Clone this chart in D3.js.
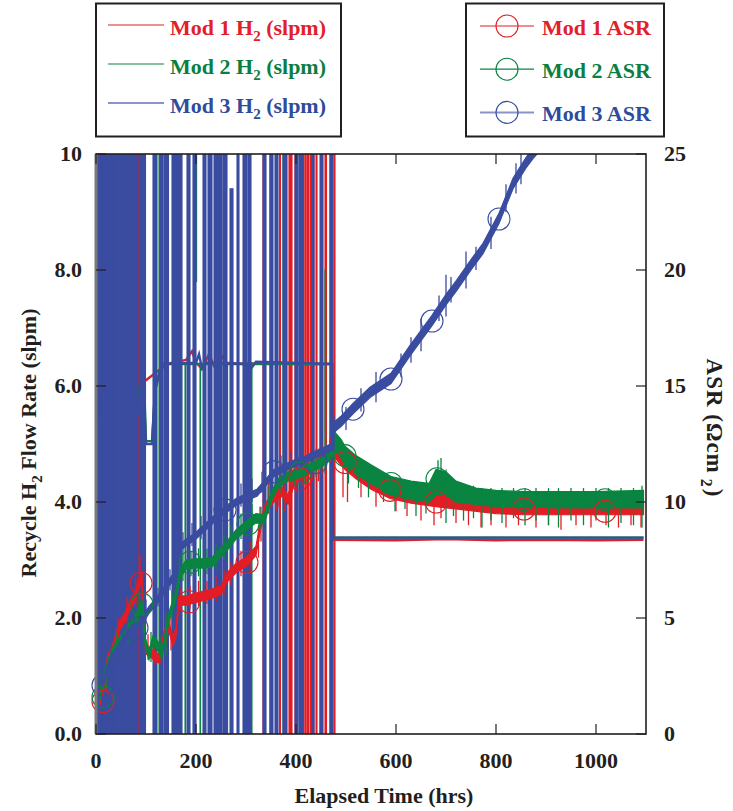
<!DOCTYPE html>
<html><head><meta charset="utf-8">
<script src="https://cdn.jsdelivr.net/npm/d3@7"></script>
<style>
body{margin:0;background:#fff}
text{font-family:"Liberation Serif","Times New Roman",serif;font-weight:bold}
</style>
</head><body>
<svg id="c" width="733" height="811"></svg>
<script>
// ---------------- DATA ----------------
const xTicks = [0, 200, 400, 600, 800, 1000];
const xTickLabels = ["0", "200", "400", "600", "800", "1000"];
const yLeftTicks = [0, 2, 4, 6, 8, 10];
const yLeftLabels = ["0.0", "2.0", "4.0", "6.0", "8.0", "10"];
const yRightTicks = [0, 5, 10, 15, 20, 25];
const yRightLabels = ["0", "5", "10", "15", "20", "25"];

const seriesNames = ["Mod 1", "Mod 2", "Mod 3"];

// H2 flow (slpm) baselines [hrs, slpm]
const flowRed = [[2,6.2],[10,6.05],[20,6.15],[30,6.1],[40,6.2],[50,6.1],[52,7.8],[62,7.8],[64,6.2],[80,6.1],[100,6.1],[130,6.3],[150,6.4],[180,6.45],[192,6.6],[200,6.4],[212,6.3],[226,6.55],[236,6.35],[246,6.6],[260,6.4],[300,6.38],[350,6.4],[400,6.38],[472,6.38],[474,3.35],[600,3.34],[700,3.36],[800,3.34],[900,3.35],[1000,3.34],[1095,3.35]];
const flowGreen = [[0,6.4],[8,5.5],[16,6.5],[24,5.9],[32,6.6],[40,5.8],[48,6.3],[56,5.7],[64,6.5],[72,5.9],[80,6.2],[88,5.6],[96,6.1],[100,5.05],[112,5.05],[118,5.95],[126,6.2],[132,6.38],[472,6.38],[474,3.385],[1095,3.385]];
const flowBlue = [[0,6.5],[6,5.4],[14,6.6],[22,5.9],[30,6.8],[38,5.7],[46,6.4],[54,5.6],[62,6.6],[70,5.8],[78,6.3],[86,5.5],[94,6.2],[100,5.0],[112,5.0],[118,5.9],[126,6.2],[132,6.38],[200,6.4],[206,6.55],[212,6.3],[220,6.4],[300,6.38],[310,6.3],[320,6.42],[472,6.38],[474,3.385],[1095,3.385]];

// flow excursions [startHrs, endHrs, low slpm, high slpm]
const spikesRed = [[9,10,0,10.5],[84,85,0,10.5],[165,167,0,10.5],[241,243,6.4,10.5],[247,249,6.4,8.3],[334,338,0,10.5],[349,352,0,10.5],[367,369,0,10.5],[386,392,0,10.5],[398,402,0,10.5],[414,416,0,10.5],[418,420,0,10.5],[422,425,0,10.5],[428,431,0,10.5],[434,436,0,10.5],[440,442,0,10.5],[448,451,0,6.4],[458,461,0,10.5],[470,472,0,10.5],[476,478,0,10.5]];
const spikesGreen = [[6,7,0,10.5],[88,89,4.8,8.5],[126,127,0,10.5],[178,179,0,6.4],[200,201,7.8,10.5],[208,209,0,6.4],[242,243,0,6.4],[262,263,0,6.4],[302,304,0,6.4],[310,312,0,6.4],[348,349,0,10.5],[374,375,0,10.5],[458,459,4.5,8.0],[468,469,0,10.5]];
const spikesBlue = [[1,5,0,10.5],[8,33,0,10.5],[34,52,0,10.5],[53,83,0,10.5],[86,99,0,10.5],[114,122,0,10.5],[128,134,0,10.5],[136,145,0,10.5],[152,172,0,10.5],[182,188,0,10.5],[194,200,0,10.5],[214,220,0,10.5],[224,232,0,10.5],[236,242,0,10.5],[244,252,0,10.5],[254,262,0,10.5],[268,274,0,9.4],[282,286,0,10.5],[294,302,0,10.5],[304,310,0,10.5],[334,340,0,10.5],[348,354,0,10.5],[358,364,0,10.5],[374,382,0,10.5],[398,404,0,10.5],[406,414,0,10.5],[432,436,0,10.5],[448,454,0,10.5],[468,474,0,10.5]];

// ASR bands [hrs, low, high] (ohm cm2)
const asrRed = [[8,1.25,1.65],[16,2.0,2.4],[24,3.05,3.45],[32,3.35,3.75],[40,3.95,4.35],[48,4.5,4.9],[58,4.85,5.25],[68,5.35,5.75],[76,5.65,6.05],[86,6.3,6.7],[92,6.55,6.95],[96,4.15,4.55],[100,3.45,3.85],[110,3.3,3.7],[120,3.1,3.5],[128,3.05,3.45],[136,4.05,4.45],[146,4.4,4.8],[154,3.8,4.2],[160,4.2,4.6],[166,5.55,5.95],[180,5.55,5.95],[196,5.65,6.05],[214,5.75,6.15],[232,5.85,6.25],[250,6.0,6.4],[262,6.55,6.95],[280,6.95,7.35],[302,7.25,7.65],[320,7.7,8.1],[330,8.9,9.3],[340,9.6,10.0],[356,10.0,10.4],[372,10.25,10.65],[384,9.9,10.3],[396,10.7,11.1],[408,10.95,11.35],[424,11.2,11.6],[440,11.4,11.8],[456,11.65,12.05],[466,12.0,12.4],[474,12.0,12.4],[478,11.9,12.5],[498,11.4,12.0],[520,11.0,11.6],[550,10.55,11.1],[588,10.15,10.7],[630,9.95,10.5],[680,9.8,10.35],[740,9.65,10.2],[800,9.5,10.0],[856,9.45,10.0],[920,9.45,9.95],[1018,9.45,9.95],[1095,9.45,9.95]];
const asrGreen = [[8,1.45,1.85],[16,2.2,2.6],[26,2.95,3.35],[36,3.45,3.85],[46,3.75,4.15],[58,4.05,4.45],[70,4.45,4.85],[80,4.8,5.2],[92,5.4,5.8],[98,3.8,4.2],[106,3.2,3.6],[114,3.85,4.25],[122,3.65,4.05],[132,3.3,3.7],[140,4.2,4.6],[148,5.0,5.4],[158,5.6,6.0],[168,6.7,7.1],[180,7.1,7.5],[196,7.15,7.55],[214,7.15,7.55],[232,7.2,7.6],[250,7.65,8.05],[262,7.9,8.3],[280,8.4,8.8],[304,8.85,9.25],[320,9.1,9.5],[336,9.05,9.45],[350,10.0,10.4],[364,10.6,11.0],[384,10.9,11.3],[408,11.05,11.45],[430,11.3,11.7],[450,11.5,11.9],[466,11.75,12.15],[474,12.0,12.5],[478,12.2,13.0],[490,11.9,12.7],[498,11.6,12.4],[520,11.2,12.0],[550,10.8,11.6],[590,10.3,11.1],[630,10.1,10.9],[666,10.0,10.8],[680,10.3,11.4],[700,10.3,11.3],[720,10.0,10.9],[760,9.9,10.6],[800,9.8,10.5],[856,9.8,10.45],[920,9.75,10.45],[1000,9.75,10.45],[1095,9.75,10.5]];
const asrBlue = [[5,1.95,2.25],[14,2.05,2.35],[24,2.75,3.05],[36,3.25,3.55],[48,3.65,3.95],[60,4.05,4.35],[72,4.4,4.7],[82,4.45,4.75],[94,4.8,5.1],[106,5.2,5.5],[118,5.5,5.8],[130,5.85,6.15],[142,6.25,6.55],[154,6.6,6.9],[162,7.15,7.45],[168,7.9,8.2],[180,8.1,8.4],[200,8.4,8.7],[220,8.8,9.1],[240,9.2,9.5],[258,9.5,9.8],[280,9.85,10.15],[300,10.05,10.35],[322,10.25,10.55],[340,10.7,11.0],[356,11.1,11.4],[380,11.35,11.65],[400,11.55,11.85],[422,11.7,12.0],[440,11.9,12.2],[460,12.1,12.4],[474,12.25,12.55],[476,13.0,13.45],[490,13.25,13.7],[514,13.8,14.25],[548,14.5,14.95],[590,15.1,15.55],[628,16.3,16.75],[672,17.6,18.05],[700,18.5,18.95],[721,19.1,19.55],[750,20.0,20.45],[774,20.7,21.15],[806,22.0,22.45],[834,23.5,23.95],[860,24.4,24.85],[874,24.8,25.25],[886,25.1,25.55]];

// ASR noise excursions [hrs, low, high]
const asrRedSpikes = [[20,1.8,3.0],[44,3.8,5.0],[62,4.6,5.9],[80,5.5,6.7],[88,6.5,7.7],[104,3.2,4.3],[116,3.0,4.0],[140,3.9,5.0],[150,3.6,5.1],[170,5.3,6.3],[188,5.4,6.4],[205,5.5,6.6],[222,5.6,6.6],[240,5.7,6.8],[256,6.0,7.1],[270,6.4,7.4],[290,6.8,7.9],[310,7.0,8.3],[325,7.6,9.0],[330,8.3,9.8],[345,9.5,10.8],[360,9.6,10.9],[366,9.8,11.0],[378,9.6,10.9],[388,6.1,10.6],[400,10.4,11.6],[412,10.7,11.8],[420,10.7,12.0],[432,10.9,12.0],[445,10.9,12.3],[452,11.2,12.5],[460,11.0,12.6],[468,11.7,12.8],[494,10.2,11.8],[503,10.0,11.5],[530,10.2,11.3],[560,9.8,11.0],[600,9.6,10.6],[622,9.4,10.5],[650,9.2,10.2],[676,9.0,10.4],[690,9.3,10.8],[720,9.1,10.3],[745,9.0,10.0],[770,8.9,10.0],[790,9.0,10.0],[820,8.9,10.0],[845,9.0,10.0],[880,8.9,10.0],[905,9.0,10.0],[930,8.8,10.0],[960,9.0,10.0],[990,8.9,10.0],[1020,9.0,10.0],[1045,8.9,10.0],[1070,9.0,10.0],[1090,8.9,10.0]];
const asrGreenSpikes = [[20,2.0,3.0],[40,3.3,4.4],[64,3.9,5.0],[86,4.8,6.1],[110,3.1,4.4],[128,3.2,4.2],[140,3.4,5.2],[152,5.0,6.2],[174,6.6,7.8],[190,6.8,7.9],[205,6.8,8.0],[222,6.9,8.0],[240,7.1,8.2],[256,7.5,8.6],[270,8.0,9.0],[290,8.4,9.5],[312,8.7,9.9],[328,8.8,9.8],[344,9.5,10.7],[370,10.4,11.5],[396,10.7,11.7],[418,10.8,11.9],[440,11.1,12.3],[460,11.4,12.5],[505,10.8,12.2],[525,10.6,11.8],[545,10.2,11.4],[575,10.0,11.2],[598,9.6,11.0],[618,9.7,10.8],[640,9.4,10.8],[660,9.5,10.8],[684,10.6,11.8],[690,10.5,11.9],[700,9.1,11.4],[715,9.4,11.0],[735,9.2,10.8],[755,9.3,10.7],[772,8.9,10.6],[790,9.2,10.6],[812,9.1,10.6],[835,9.3,10.6],[858,9.0,10.6],[880,9.2,10.6],[905,9.0,10.6],[925,8.9,10.6],[950,9.2,10.6],[975,9.0,10.6],[1000,9.2,10.6],[1025,8.9,10.6],[1050,9.1,10.6],[1075,9.0,10.6],[1092,8.9,10.7]];
const asrBlueSpikes = [[30,2.8,3.6],[54,3.6,4.4],[76,4.2,5.0],[100,4.8,5.8],[124,5.5,6.3],[148,6.2,7.1],[174,7.8,8.7],[192,8.1,9.1],[210,8.4,9.4],[230,8.8,9.8],[250,9.2,10.2],[270,9.5,10.6],[290,9.8,10.8],[312,10.0,11.0],[332,10.4,11.3],[348,10.8,11.8],[370,11.1,12.0],[390,11.3,12.2],[412,11.5,12.4],[432,11.7,12.6],[452,11.9,12.8],[476,12.2,13.7],[500,13.1,14.1],[530,13.9,14.9],[560,14.3,15.6],[610,15.4,16.4],[630,16.0,17.1],[650,16.5,17.9],[686,17.8,18.9],[700,18.0,19.8],[710,18.6,19.7],[740,19.2,20.8],[760,20.0,21.0],[790,20.9,22.3],[820,22.5,23.7],[840,23.3,24.6],[850,23.7,25.2]];

// ASR markers [hrs, ASR]
const markRed = [[14,1.4],[90,6.5],[186,5.7],[302,7.4],[408,11.0],[498,11.7],[588,10.5],[680,10.0],[856,9.7],[1018,9.6]];
const markGreen = [[14,1.6],[92,5.6],[188,7.4],[304,9.05],[408,11.25],[498,12.0],[590,10.8],[682,11.0],[856,10.1],[1018,10.1]];
const markBlue = [[14,2.1],[82,4.57],[258,9.66],[356,11.3],[440,11.7],[514,14.0],[590,15.3],[672,17.8],[806,22.2]];

// ---------------- DRAW ----------------
const C = {red:"#e31d25", green:"#0a8441", blue:"#394ca0",
           tRed:"#e2202a", tGreen:"#0b7f3f", tBlue:"#2f4b9b",
           lBlue:"#8a94c8"};
const svg = d3.select("#c");
const L = 96, R = 646, T = 154, B = 734;
const x = d3.scaleLinear().domain([0, 1100]).range([L, R]);
const yL = d3.scaleLinear().domain([0, 10]).range([B, T]);
const yR = d3.scaleLinear().domain([0, 25]).range([B, T]);

svg.append("defs").append("clipPath").attr("id","clip")
  .append("rect").attr("x",L).attr("y",T).attr("width",R-L).attr("height",B-T);
const plot = svg.append("g").attr("clip-path","url(#clip)");

const flowLine = d3.line().x(d=>x(d[0])).y(d=>yL(d[1]));
function drawFlow(base, spikes, col){
  const g = plot.append("g");
  g.append("path").datum(base).attr("d",flowLine).attr("fill","none")
    .attr("stroke",col).attr("stroke-width",2.4);
  g.selectAll("rect.sp").data(spikes).join("rect").attr("class","sp")
    .attr("x",d=>x(d[0])).attr("width",d=>Math.max(0.6, x(d[1])-x(d[0])))
    .attr("y",d=>yL(d[3])).attr("height",d=>yL(d[2])-yL(d[3]))
    .attr("fill",col).attr("stroke",col).attr("stroke-width",1.1);
}
drawFlow(flowRed, spikesRed, C.red);
drawFlow(flowGreen, spikesGreen, C.green);
drawFlow(flowBlue, spikesBlue, C.blue);

const band = d3.area().x(d=>x(d[0])).y0(d=>yR(d[1])).y1(d=>yR(d[2]));
function drawAsr(data, spikes, marks, col){
  const g = plot.append("g");
  g.append("path").datum(data).attr("d",band).attr("fill",col)
    .attr("stroke",col).attr("stroke-width",1.2);
  g.selectAll("line").data(spikes).join("line")
    .attr("x1",d=>x(d[0])).attr("x2",d=>x(d[0]))
    .attr("y1",d=>yR(d[1])).attr("y2",d=>yR(d[2]))
    .attr("stroke",col).attr("stroke-width",1.3);
  svg.append("g").selectAll("circle").data(marks).join("circle")
    .attr("cx",d=>x(d[0])).attr("cy",d=>yR(d[1])).attr("r",11)
    .attr("fill","none").attr("stroke",col).attr("stroke-width",1.1);
}
drawAsr(asrRed, asrRedSpikes, markRed, C.red);
drawAsr(asrGreen, asrGreenSpikes, markGreen, C.green);
drawAsr(asrBlue, asrBlueSpikes, markBlue, C.blue);

// frame
const ax = svg.append("g");
ax.append("rect").attr("x",L).attr("y",T).attr("width",R-L).attr("height",B-T)
  .attr("fill","none").attr("stroke","#231f20").attr("stroke-width",1.6);
ax.append("line").attr("x1",L).attr("x2",L).attr("y1",T).attr("y2",B)
  .attr("stroke","#7a7a7a").attr("stroke-width",3);
// ticks
const tk = 10;
ax.selectAll(".xb").data(xTicks).join("line")
  .attr("x1",d=>x(d)).attr("x2",d=>x(d)).attr("y1",B).attr("y2",B-tk)
  .attr("stroke","#231f20").attr("stroke-width",1.2);
ax.selectAll(".xt").data(xTicks).join("line")
  .attr("x1",d=>x(d)).attr("x2",d=>x(d)).attr("y1",T).attr("y2",T+tk)
  .attr("stroke","#231f20").attr("stroke-width",1.2);
ax.selectAll(".yl").data(yLeftTicks).join("line")
  .attr("x1",L).attr("x2",L+tk).attr("y1",d=>yL(d)).attr("y2",d=>yL(d))
  .attr("stroke","#231f20").attr("stroke-width",1.2);
ax.selectAll(".yr").data(yRightTicks).join("line")
  .attr("x1",R).attr("x2",R-tk).attr("y1",d=>yR(d)).attr("y2",d=>yR(d))
  .attr("stroke","#231f20").attr("stroke-width",1.2);

// tick labels
const fs = 22;
ax.selectAll(".xl").data(xTicks).join("text")
  .attr("x",d=>x(d)).attr("y",768).attr("text-anchor","middle")
  .attr("font-size",fs).attr("fill","#231f20").text((d,i)=>xTickLabels[i]);
ax.selectAll(".yll").data(yLeftTicks).join("text")
  .attr("x",82).attr("y",d=>yL(d)).attr("dy","0.34em").attr("text-anchor","end")
  .attr("font-size",fs).attr("fill","#231f20").text((d,i)=>yLeftLabels[i]);
ax.selectAll(".yrl").data(yRightTicks).join("text")
  .attr("x",664).attr("y",d=>yR(d)).attr("dy","0.34em").attr("text-anchor","start")
  .attr("font-size",fs).attr("fill","#231f20").text((d,i)=>yRightLabels[i]);

// axis titles
ax.append("text").attr("x",384).attr("y",803).attr("text-anchor","middle")
  .attr("font-size",fs).attr("fill","#231f20").text("Elapsed Time (hrs)");
const yt = ax.append("text").attr("transform","translate(36,443) rotate(-90)")
  .attr("text-anchor","middle").attr("font-size",fs).attr("fill","#231f20");
yt.append("tspan").text("Recycle H");
yt.append("tspan").attr("font-size",15).attr("dy",6).text("2");
yt.append("tspan").attr("dy",-6).text(" Flow Rate (slpm)");
const rt = ax.append("text").attr("transform","translate(707,428) rotate(90)")
  .attr("text-anchor","middle").attr("font-size",23).attr("letter-spacing",1)
  .attr("fill","#231f20");
rt.append("tspan").text("ASR (\u03A9cm");
rt.append("tspan").attr("font-size",16).attr("dy",6).attr("dx",5).text("2");
rt.append("tspan").attr("dy",-6).attr("dx",1).text(")");

// legends
const lg = svg.append("g");
lg.append("rect").attr("x",96).attr("y",3.5).attr("width",245).attr("height",133)
  .attr("fill","#fff").attr("stroke","#231f20").attr("stroke-width",2);
const leftCols = [C.red, C.green, C.lBlue];
const textCols = [C.tRed, C.tGreen, C.tBlue];
seriesNames.forEach((n,i)=>{
  const yb = 35 + i*39;
  lg.append("line").attr("x1",108).attr("x2",164).attr("y1",yb-10).attr("y2",yb-10)
    .attr("stroke",leftCols[i]).attr("stroke-width",i===2?2:1.2);
  const t = lg.append("text").attr("x",170).attr("y",yb).attr("font-size",fs).attr("fill",textCols[i]);
  t.append("tspan").text(n+" H");
  t.append("tspan").attr("font-size",15).attr("dy",6).text("2");
  t.append("tspan").attr("dy",-6).text(" (slpm)");
});
lg.append("rect").attr("x",466).attr("y",3.5).attr("width",198).attr("height",133)
  .attr("fill","#fff").attr("stroke","#231f20").attr("stroke-width",2);
seriesNames.forEach((n,i)=>{
  const yb = 34.5 + i*43.2;
  const yl = yb - 8.5;
  lg.append("line").attr("x1",480).attr("x2",534).attr("y1",yl).attr("y2",yl)
    .attr("stroke",leftCols[i]).attr("stroke-width",i===2?2:1.2);
  lg.append("circle").attr("cx",507).attr("cy",yl).attr("r",11)
    .attr("fill","none").attr("stroke",[C.red,C.green,C.blue][i]).attr("stroke-width",1.1);
  lg.append("text").attr("x",542).attr("y",yb).attr("font-size",fs).attr("fill",textCols[i]).text(n+" ASR");
});
</script>
</body></html>
